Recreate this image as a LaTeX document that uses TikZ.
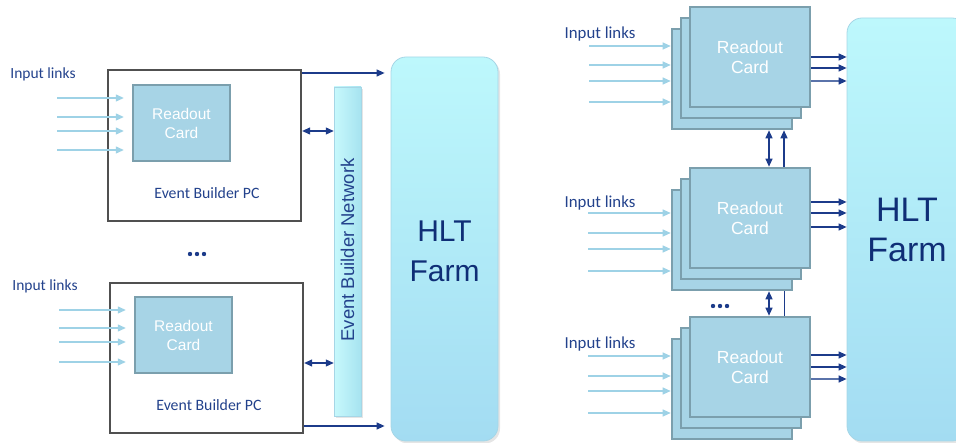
\documentclass[tikz,border=0pt]{standalone}
\usepackage{fontspec}
\setmainfont{Liberation Sans}
\newfontfamily\labelfont{Carlito}
\usetikzlibrary{arrows.meta}

\definecolor{navy}{HTML}{1C3B8A}
\definecolor{navysoft}{HTML}{5A73AA}
\definecolor{textblue}{HTML}{23428C}
\definecolor{hlttext}{HTML}{0F2E76}
\definecolor{linkblue}{HTML}{9ED2E6}
\definecolor{cardfill}{HTML}{A7D4E6}
\definecolor{cardedge}{HTML}{7B9FAD}
\definecolor{pcedge}{HTML}{505050}
\definecolor{farmtop}{HTML}{BDF8FC}
\definecolor{farmbot}{HTML}{A3DCF2}
\definecolor{farmedge}{HTML}{A6D6E6}
\definecolor{netleft}{HTML}{C8F9FC}
\definecolor{netright}{HTML}{A6E3F0}

\begin{document}
\begin{tikzpicture}[x=1pt,y=-1pt,
  pcbox/.style={draw=pcedge,line width=2.3pt,fill=white,inner sep=0pt,
    minimum width=193pt,minimum height=151pt},
  smallcard/.style={draw=cardedge,line width=2.4pt,fill=cardfill,text=white,
    align=center,inner sep=0pt,minimum width=97pt,minimum height=76pt,
    font=\fontsize{15.5}{19}\selectfont},
  card/.style={draw=cardedge,line width=2.6pt,fill=cardfill,text=white,
    align=center,inner sep=0pt,minimum width=120pt,minimum height=100pt,
    font=\fontsize{17.5}{20}\selectfont},
  linklabel/.style={text=textblue,inner sep=0pt,font=\labelfont\fontsize{15.5}{18}\selectfont},
  bigLinklabel/.style={text=textblue,inner sep=0pt,font=\labelfont\fontsize{16.8}{19}\selectfont},
  pclabel/.style={text=textblue,inner sep=0pt,font=\labelfont\fontsize{15.8}{18}\selectfont},
  farm/.style={draw=farmedge,line width=0.8pt,rounded corners=15pt,
    top color=farmtop,bottom color=farmbot,inner sep=0pt},
  farmtext/.style={text=hlttext,align=center,inner sep=0pt},
  tipd/.tip={Triangle[length=8pt,width=7pt]},
  dark/.style={draw=navy,line width=1.2pt,-tipd},
  darksoft/.style={draw=navysoft,line width=1.4pt,-{Triangle[length=8pt,width=7pt,color=navy]}},
  dbl/.style={draw=navy,line width=1.2pt,tipd-tipd},
  thin/.style={draw=navy,line width=1pt},
  link/.style={draw=linkblue,line width=1.2pt,-{Triangle[length=8pt,width=7pt]}},
  dotsfill/.style={fill=navy}
]
\useasboundingbox (0,0) rectangle (956,443);
\clip (0,0) rectangle (956,443);

% ---------------- left: event builder PCs ----------------
\node[pcbox] (pc1) at (204.5,145.5) {};
\node[pcbox,minimum height=150pt] (pc2) at (206.5,358) {};
\node[smallcard] (rc1) at (181.5,123) {Readout\\Card};
\node[smallcard] (rc2) at (183.5,335) {Readout\\Card};
\node[pclabel] (pcl1) at (207,193) {Event Builder PC};
\node[pclabel] (pcl2) at (209,405) {Event Builder PC};
\node[linklabel] (in1) at (43,74) {Input links};
\node[linklabel] (in2) at (45,286) {Input links};

% input links into the readout cards
\foreach \y in {98,117,131,150}
  \draw[link,shorten >=8pt] (57,\y) -- (rc1.west |- 0,\y);
\foreach \y in {310,328,342,362}
  \draw[link,shorten >=8pt] (59,\y) -- (rc2.west |- 0,\y);

% ellipsis between the PCs
\node[inner sep=0pt] (ldots) at (197,254) {};
\foreach \dx in {-7,0,7}
  \fill[dotsfill] ([xshift=\dx pt]ldots.center) circle (2.2pt);

% event builder network bar
\fill[black,opacity=0.10] (336,89) rectangle (363,418);
\node[draw=farmedge,line width=0.5pt,left color=netleft,right color=netright,
  inner sep=0pt,minimum width=27pt,minimum height=329pt] (ebn) at (347.5,251.5) {};
\node[rotate=90,text=textblue,inner sep=0pt,font=\fontsize{18.5}{20}\selectfont]
  (ebnl) at (347.5,250) {Event Builder Network};

% left HLT farm
\fill[black,opacity=0.10,rounded corners=15pt] (393,59) rectangle (500,443.5);
\node[farm,minimum width=107pt,minimum height=384pt] (hlt1) at (444.5,249) {};
\node[farmtext,font=\fontsize{30}{40}\selectfont] (hlt1t) at (444.5,251) {HLT\\Farm};

% left connectors
\draw[dark,shorten >=6pt] (pc1.east |- 0,73) -- (hlt1.west |- 0,73);
\draw[dbl] (pc1.east |- 0,131) -- (ebn.west |- 0,131);
\draw[dbl] (pc2.east |- 0,363) -- (ebn.west |- 0,363);
\draw[dark,shorten >=6pt] (pc2.east |- 0,426) -- (hlt1.west |- 0,426);

% ---------------- right: stacked readout cards ----------------
% top stack
\node[card] (s1c) at (732,79) {};
\node[card] (s1b) at (741,68) {};
\node[card] (s1a) at (750,57) {Readout\\Card};
% middle stack
\node[card] (s2c) at (732,240) {};
\node[card] (s2b) at (741,229) {};
\node[card] (s2a) at (750,218) {Readout\\Card};
% bottom stack
\node[card] (s3c) at (732,389) {};
\node[card] (s3b) at (741,378) {};
\node[card] (s3a) at (750,367) {Readout\\Card};

\node[bigLinklabel] (rin1) at (600,34) {Input links};
\node[bigLinklabel] (rin2) at (600,203) {Input links};
\node[bigLinklabel] (rin3) at (600,344) {Input links};

\foreach \y in {46,65,81,102}
  \draw[link] (589,\y) -- (s1c.west |- 0,\y);
\foreach \y in {213,233,249,271}
  \draw[link] (588,\y) -- (s2c.west |- 0,\y);
\foreach \y in {356,376,391,413}
  \draw[link] (588,\y) -- (s3c.west |- 0,\y);

% right HLT farm
\fill[black,opacity=0.10,rounded corners=15pt] (849,20) rectangle (969,443.5);
\node[farm,minimum width=120pt,minimum height=423pt] (hlt2) at (907,229.5) {};
\node[farmtext,font=\fontsize{34}{40}\selectfont] (hlt2t) at (907,229.5) {HLT\\Farm};

% outputs towards the farm
\draw[dark] (s1a.east |- 0,57) -- (hlt2.west |- 0,57);
\draw[dark] (s1a.east |- 0,68) -- (hlt2.west |- 0,68);
\draw[darksoft] (s1a.east |- 0,81) -- (hlt2.west |- 0,81);
\draw[dark] (s2a.east |- 0,202) -- (hlt2.west |- 0,202);
\draw[dark] (s2a.east |- 0,213) -- (hlt2.west |- 0,213);
\draw[dark] (s2a.east |- 0,227) -- (hlt2.west |- 0,227);
\draw[dark] (s3a.east |- 0,355) -- (hlt2.west |- 0,355);
\draw[dark] (s3a.east |- 0,367) -- (hlt2.west |- 0,367);
\draw[darksoft] (s3a.east |- 0,379) -- (hlt2.west |- 0,379);

% links between neighbouring stacks
\draw[dbl] (s1c.south -| 769,0) -- (s2a.north -| 769,0);
\draw[dark] (s2a.north -| 784,0) -- (s1c.south -| 784,0);
\draw[dbl] (s2c.south -| 769,0) -- (s3a.north -| 769,0);
\draw[thin] (s2c.south -| 784,0) -- (s3a.north -| 784,0);

% ellipsis between the lower stacks
\node[inner sep=0pt] (rdots) at (720,306) {};
\foreach \dx in {-7,0,7}
  \fill[dotsfill] ([xshift=\dx pt]rdots.center) circle (2.2pt);
\end{tikzpicture}
\end{document}
